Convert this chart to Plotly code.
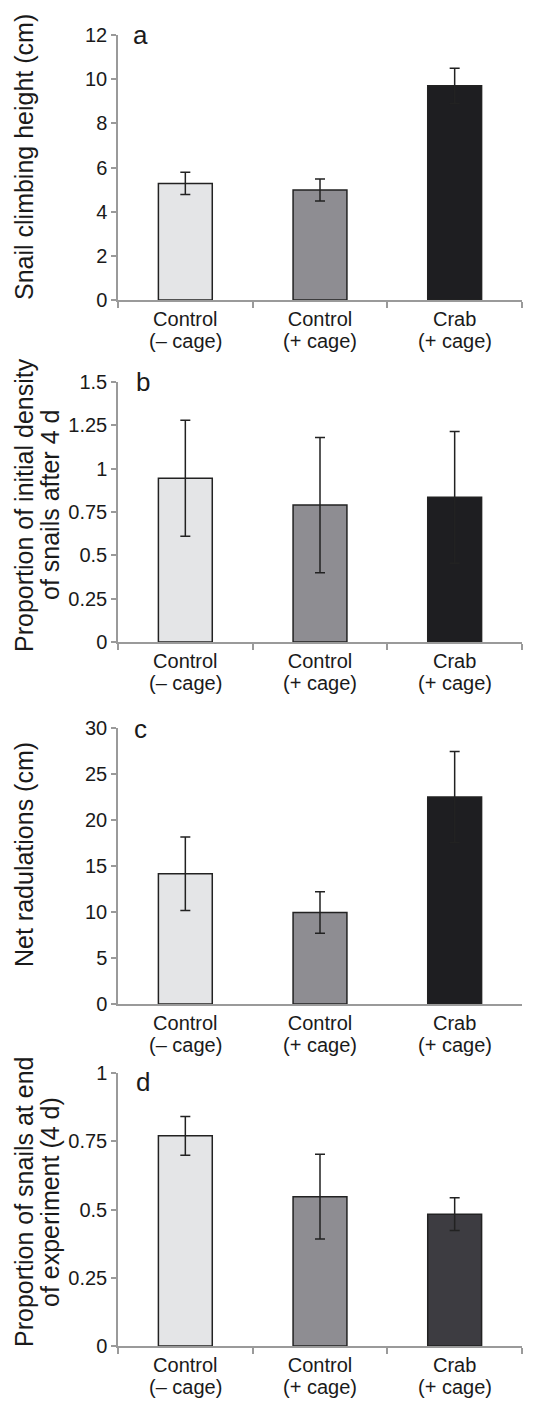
import plotly.graph_objects as go
from plotly.subplots import make_subplots

# ---------------- data ----------------
categories = ["Control (– cage)", "Control (+ cage)", "Crab (+ cage)"]
label_top = ["Control", "Control", "Crab"]
label_bottom = ["(– cage)", "(+ cage)", "(+ cage)"]

climb_mean = [5.28, 4.98, 9.7]
climb_err = [0.5, 0.5, 0.8]

density_mean = [0.945, 0.79, 0.835]
density_err = [0.335, 0.39, 0.38]

radula_mean = [14.15, 9.95, 22.5]
radula_err = [4.0, 2.25, 4.95]

remain_mean = [0.77, 0.547, 0.483]
remain_err = [0.071, 0.155, 0.06]

panel_letters = ["a", "b", "c", "d"]
y_titles = [
    ["Snail climbing height (cm)"],
    ["Proportion of initial density", "of snails after 4 d"],
    ["Net radulations (cm)"],
    ["Proportion of snails at end", "of experiment (4 d)"],
]
y_ranges = [[0, 12], [0, 1.5], [0, 30], [0, 1]]
y_dticks = [2, 0.25, 5, 0.25]

colors_abc = ["#e4e5e7", "#8e8d92", "#1e1e21"]
colors_d = ["#e4e5e7", "#8e8d92", "#3d3c41"]

# ---------------- layout geometry ----------------
# page pixel coordinates of the reference; the browser body has an 8px margin
OFF = 8
PAGE_W, PAGE_H = 555, 1404
W, H = PAGE_W - 2 * OFF, PAGE_H - OFF
L_px, R_px = 118, 522
panels_px = [(35, 300), (382, 642), (728, 1004), (1073, 1346)]
T_px, B_px = 35, 1346

L = L_px - OFF
R = R_px - OFF
T = T_px - OFF
B = H - (B_px - OFF)
ph = H - T - B
pw = R - L


def py(px):
    """page y pixel -> paper y"""
    return (H - B - (px - OFF)) / ph


def pxx(px):
    """page x pixel -> paper x"""
    return (px - OFF - L) / pw


FONT = "Liberation Sans, Arial, Helvetica, sans-serif"
AXC = "#9a9a9a"
INK = "#222222"
TXT = "#1a1a1a"

fig = make_subplots(rows=4, cols=1)

series = [
    (climb_mean, climb_err, colors_abc),
    (density_mean, density_err, colors_abc),
    (radula_mean, radula_err, colors_abc),
    (remain_mean, remain_err, colors_d),
]

for i, (m, e, c) in enumerate(series):
    fig.add_trace(
        go.Bar(
            x=categories,
            y=m,
            width=0.4,
            marker=dict(color=c, line=dict(color=INK, width=1.5)),
            error_y=dict(type="data", array=e, color=INK, thickness=1.5, width=5),
            showlegend=False,
        ),
        row=i + 1,
        col=1,
    )
    top, bot = panels_px[i]
    xa = "xaxis" if i == 0 else f"xaxis{i+1}"
    ya = "yaxis" if i == 0 else f"yaxis{i+1}"
    fig.layout[xa].update(
        domain=[0, 1],
        range=[-0.5, 2.5],
        tickmode="array",
        tickvals=categories,
        ticktext=label_top,
        showline=True,
        linecolor=AXC,
        linewidth=1.5,
        ticks="" if i == 2 else "outside",
        tickson="boundaries",
        ticklen=6,
        tickcolor=AXC,
        tickwidth=1.5,
        showgrid=False,
        tickfont=dict(family=FONT, size=20, color=TXT),
        fixedrange=True,
    )
    fig.layout[ya].update(
        domain=[py(bot), py(top)],
        range=y_ranges[i],
        dtick=y_dticks[i],
        tick0=0,
        showline=True,
        linecolor=AXC,
        linewidth=1.5,
        ticks="outside",
        ticklen=5,
        tickcolor=AXC,
        tickwidth=1.5,
        showgrid=False,
        zeroline=False,
        tickfont=dict(family=FONT, size=20, color=TXT),
        fixedrange=True,
    )
    # second line of the category labels
    xref = "x" if i == 0 else f"x{i+1}"
    for k, txt in enumerate(label_bottom):
        fig.add_annotation(
            text=txt, xref=xref, yref="paper", x=k, y=py(bot + 41),
            xanchor="center", yanchor="middle", showarrow=False,
            font=dict(family=FONT, size=20, color=TXT),
        )

# panel letters
letter_pos = [(140, 35), (143, 382), (140, 729), (143, 1082)]
for letter, (lx, ly) in zip(panel_letters, letter_pos):
    fig.add_annotation(
        text=letter, xref="paper", yref="paper", x=pxx(lx), y=py(ly),
        xanchor="center", yanchor="middle", showarrow=False,
        font=dict(family=FONT, size=26, color=TXT),
    )

# y-axis titles (each line placed separately)
title_pos = [
    ([24], 157),
    ([24, 50], 505),
    ([24], 855),
    ([24, 50], 1202),
]
for lines, (xs, yc) in zip(y_titles, title_pos):
    for line, tx in zip(lines, xs):
        fig.add_annotation(
            text=line, xref="paper", yref="paper", x=pxx(tx), y=py(yc),
            xanchor="center", yanchor="middle", showarrow=False, textangle=-90,
            font=dict(family=FONT, size=25, color=TXT),
        )

fig.update_layout(
    width=W,
    height=H,
    margin=dict(l=L, r=W - R, t=T, b=B, pad=0),
    paper_bgcolor="white",
    plot_bgcolor="white",
    font=dict(family=FONT, color=TXT),
)

fig.write_html("out.html")
